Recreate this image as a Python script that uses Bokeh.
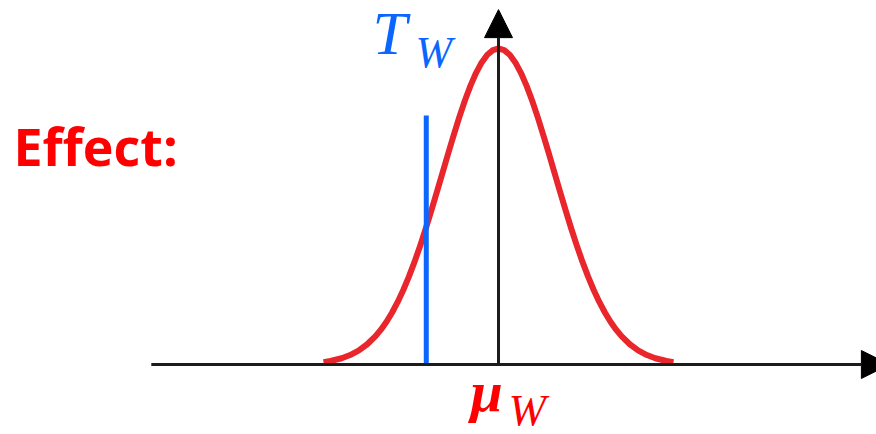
from bokeh.plotting import figure
from bokeh.models import Range1d, Label, Arrow, NormalHead, ColumnDataSource
from bokeh.embed import file_html
from bokeh.resources import INLINE

# ---- data (x in units of sigma from the mean, y relative to the peak)
curve_x = [-3.125, -3.0, -2.8, -2.65, -2.5, -2.35, -2.2, -2.1, -2.0, -1.9, -1.8, -1.7, -1.6,
           -1.5, -1.4, -1.3, -1.2, -1.1, -1.0, -0.9, -0.8, -0.7, -0.6, -0.5, -0.4, -0.3,
           -0.2, -0.1, 0.0, 0.1, 0.2, 0.3, 0.4, 0.5, 0.6, 0.7, 0.8, 0.9, 1.0, 1.1, 1.2,
           1.3, 1.4, 1.5, 1.6, 1.7, 1.8, 1.9, 2.0, 2.1, 2.2, 2.35, 2.5, 2.65, 2.8, 3.0, 3.125]
curve_y = [0.0076, 0.0111, 0.0198, 0.0299, 0.0439, 0.0632, 0.0889, 0.1103, 0.1353, 0.1645,
           0.1979, 0.2357, 0.2780, 0.3247, 0.3753, 0.4296, 0.4868, 0.5461, 0.6065, 0.6670,
           0.7261, 0.7827, 0.8353, 0.8825, 0.9231, 0.9560, 0.9802, 0.9950, 1.0000,
           0.9950, 0.9802, 0.9560, 0.9231, 0.8825, 0.8353, 0.7827, 0.7261, 0.6670, 0.6065,
           0.5461, 0.4868, 0.4296, 0.3753, 0.3247, 0.2780, 0.2357, 0.1979, 0.1645, 0.1353,
           0.1103, 0.0889, 0.0632, 0.0439, 0.0299, 0.0198, 0.0111, 0.0076]
mu_w = 0.0            # mean (vertical axis position)
t_w = -1.29           # threshold position
t_w_top = 0.788       # height of the threshold marker
axis_x_start = -6.2
axis_x_end = 6.98
axis_y_end = 1.123

label_effect = "Effect:"
label_t = "T"
label_mu = "\u03bc"
label_sub = "W"

# ---- styles
RED_CURVE = "#e8262b"
RED_TEXT = "#ff0000"
BLUE = "#0a66ff"
AXIS = "#1c1c1c"

p = figure(width=876, height=434, output_backend="svg", toolbar_location=None,
           x_range=Range1d(-8.893, 6.75), y_range=Range1d(-0.22152, 1.15190),
           x_axis_type=None, y_axis_type=None, min_border=0)
p.grid.visible = False
p.outline_line_color = None
p.background_fill_color = "white"
p.border_fill_color = "white"

src = ColumnDataSource(dict(x=curve_x, y=curve_y))
p.line("x", "y", source=src, line_color=RED_CURVE, line_width=6,
       line_cap="butt", line_join="round")

# horizontal axis with arrow
p.add_layout(Arrow(end=NormalHead(size=28, fill_color="black", line_color="black", line_width=1),
                   x_start=axis_x_start, y_start=0, x_end=axis_x_end, y_end=0,
                   line_width=3, line_color=AXIS))
# vertical axis at the mean
p.add_layout(Arrow(end=NormalHead(size=28, fill_color="black", line_color="black", line_width=1),
                   x_start=mu_w, y_start=0, x_end=mu_w, y_end=axis_y_end,
                   line_width=3, line_color=AXIS))

# threshold marker
p.segment(x0=[t_w], y0=[0], x1=[t_w], y1=[t_w_top], line_color=BLUE, line_width=5, line_cap="butt")

SERIF = "Liberation Serif"
p.add_layout(Label(x=-2.25, y=1.0481, text=label_t, text_font=SERIF, text_font_style="italic",
                   text_font_size="62px", text_color=BLUE, text_baseline="alphabetic"))
p.add_layout(Label(x=-1.482, y=0.988, text=label_sub, text_font=SERIF, text_font_style="italic",
                   text_font_size="44px", text_color=BLUE, text_baseline="alphabetic"))

p.add_layout(Label(x=-0.5, y=-0.0867, text=label_mu, text_font=SERIF, text_font_style="bold italic",
                   text_font_size="58px", text_color=RED_TEXT, text_baseline="alphabetic"))
p.add_layout(Label(x=0.179, y=-0.1437, text=label_sub, text_font=SERIF, text_font_style="italic",
                   text_font_size="45px", text_color=RED_TEXT, text_baseline="alphabetic"))

p.add_layout(Label(x=-8.661, y=0.694, text=label_effect, text_font="Open Sans", text_font_style="bold",
                   text_font_size="52px", text_color=RED_TEXT, text_baseline="alphabetic"))

open("out.html", "w").write(file_html(p, INLINE))
